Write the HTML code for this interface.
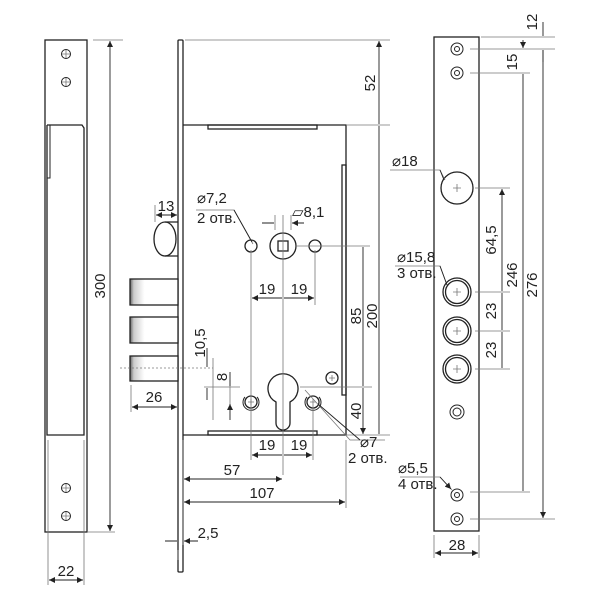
<!DOCTYPE html>
<html><head><meta charset="utf-8"><style>
html,body{margin:0;padding:0;background:#fff}
svg{display:block}
text{font-family:"Liberation Sans",sans-serif;font-size:15px;fill:#222}
</style></head><body>
<svg width="600" height="600" viewBox="0 0 600 600" xmlns="http://www.w3.org/2000/svg">
<defs>
<marker id="a" viewBox="0 0 10 10" refX="10" refY="5" markerUnits="userSpaceOnUse" markerWidth="8" markerHeight="6" orient="auto-start-reverse"><path d="M0,0 L10,5 L0,10 z" fill="#222"/></marker>
<linearGradient id="g" x1="0" x2="1"><stop offset="0" stop-color="#666"/><stop offset="0.08" stop-color="#ccc"/><stop offset="0.3" stop-color="#fff"/><stop offset="1" stop-color="#fff"/></linearGradient>
</defs>
<g fill="none" stroke="#222" stroke-width="1.3">
<rect x="45" y="40" width="42" height="492"/>
<path d="M47,125 H82 L84,128 V435 L82,435 H47 V125"/>
<path d="M50,125 V178 H47" stroke-width="1"/>
<rect x="178" y="40" width="5" height="532" rx="1"/>
<path d="M183,125 H346 V435 H183"/>
<rect x="208" y="125" width="109" height="4"/>
<rect x="208" y="431" width="109" height="4"/>
<rect x="342" y="165" width="4" height="230"/>
<ellipse cx="165" cy="239" rx="11" ry="17"/>
<path d="M165,222 H178 M165,256 H178"/>
<rect x="130" y="279" width="48" height="26" fill="url(#g)"/>
<rect x="130" y="317" width="48" height="26" fill="url(#g)"/>
<rect x="130" y="356" width="48" height="25" fill="url(#g)"/>
<circle cx="283" cy="246" r="13"/>
<rect x="278" y="241" width="10" height="10"/>
<circle cx="251" cy="246" r="6"/>
<circle cx="315" cy="246" r="6"/>
<path d="M276,402 A15,15 0 1 1 290,402 V423 A7,7 0 0 1 276,423 Z"/>
<circle cx="251" cy="402" r="6"/>
<path d="M245,397 A8,8 0 1 0 257,397" stroke-width="1"/>
<circle cx="313" cy="402" r="6"/>
<path d="M307,397 A8,8 0 1 0 319,397" stroke-width="1"/>
<circle cx="332" cy="378" r="6"/>
<rect x="434" y="37" width="45" height="494"/>
<circle cx="457" cy="188" r="16"/>
<circle cx="457" cy="292" r="14"/><circle cx="457" cy="292" r="11.5"/>
<circle cx="457" cy="331" r="14"/><circle cx="457" cy="331" r="11.5"/>
<circle cx="457" cy="369" r="14"/><circle cx="457" cy="369" r="11.5"/>
</g>
<g fill="none" stroke="#222" stroke-width="1">
<circle cx="66" cy="54" r="4.5"/><circle cx="66" cy="82" r="4.5"/>
<circle cx="66" cy="488" r="4.5"/><circle cx="66" cy="516" r="4.5"/>
<circle cx="457" cy="49" r="6"/><circle cx="457" cy="49" r="2.5"/>
<circle cx="457" cy="73" r="6"/><circle cx="457" cy="73" r="2.5"/>
<circle cx="457" cy="412" r="7"/><circle cx="457" cy="412" r="4"/>
<circle cx="457" cy="495" r="6"/><circle cx="457" cy="495" r="2.5"/>
<circle cx="457" cy="519" r="6"/><circle cx="457" cy="519" r="2.5"/>
</g>
<g stroke="#777" stroke-width="0.8" fill="none">
<path d="M62,54h8M66,50v8M62,82h8M66,78v8M62,488h8M66,484v8M62,516h8M66,512v8"/>
<path d="M453,188h8M457,184v8M453,292h8M457,288v8M453,331h8M457,327v8M453,369h8M457,365v8M329,378h6M332,375v6M248,402h6M251,399v6M310,402h6M313,399v6"/>
<path d="M93,40H123M87,532H115M48,440V585M84,440V585"/>
<path d="M185,40H390M346,125H390M346,435H390M295,246H370M300,387H372"/>
<path d="M283,215V475M251,250V460M315,250V305M251,405V460M313,405V460"/>
<path d="M155,205V222M346,440V508M183,440V545M178,550V560M204,387H240M213,358V420"/>
<path d="M120,368H213" stroke-dasharray="2,2"/>
<path d="M230,380V410M131,385V412"/>
<path d="M481,37H555M470,49H555M470,73H530M475,188H510M475,292H510M475,331H510M475,369H510M470,492H530M470,519H555M434,535V558M479,535V558"/>
<path d="M196,210H234L253,244M305,390L350,440H385M390,170H440L445,180M395,266H440L447,285M400,477H440L452,490"/>
<path d="M275,215V230M291,215V230"/>
</g>
<g stroke="#222" stroke-width="0.9" fill="none" marker-end="url(#a)" marker-start="url(#a)">
<path d="M110,41V531"/>
<path d="M49,580H83"/>
<path d="M156,215H177"/>
<path d="M252,298H282M284,298H314"/>
<path d="M252,455H282M284,455H312"/>
<path d="M184,479H282"/>
<path d="M184,502H345"/>
<path d="M132,407H177"/>
<path d="M379,41V124M379,126V434M363,247V386M363,388V434"/>
<path d="M502,189V291M502,293V330M502,332V368M523,74V491M543,50V518"/>
<path d="M435,553H478"/>
</g>
<g stroke="#222" stroke-width="0.9" fill="none" marker-end="url(#a)">
<path d="M262,223H274M304,223H292"/>
<path d="M207,348V367M207,400V388M230,372V386M230,420V404"/>
<path d="M165,541H177M198,541H184"/>
<path d="M543,22V36M543,62V50M523,40V48"/>
<path d="M234,210L252,242M360,440L318,404M440,170L444,180M440,266L447,285M440,477L451,489"/>
</g>
<text x="100" y="286" text-anchor="middle" transform="rotate(-90 100 286)" dy="5">300</text>
<text x="66" y="576" text-anchor="middle">22</text>
<text x="166" y="211" text-anchor="middle">13</text>
<text x="197" y="203">⌀7,2</text>
<text x="197" y="223">2 отв.</text>
<text x="292" y="217">▱8,1</text>
<text x="267" y="294" text-anchor="middle">19</text>
<text x="299" y="294" text-anchor="middle">19</text>
<text x="267" y="450" text-anchor="middle">19</text>
<text x="299" y="450" text-anchor="middle">19</text>
<text x="154" y="402" text-anchor="middle">26</text>
<text x="232" y="475" text-anchor="middle">57</text>
<text x="262" y="498" text-anchor="middle">107</text>
<text x="208" y="538" text-anchor="middle">2,5</text>
<text x="200" y="343" text-anchor="middle" transform="rotate(-90 200 343)" dy="5">10,5</text>
<text x="222" y="377" text-anchor="middle" transform="rotate(-90 222 377)" dy="5">8</text>
<text x="370" y="83" text-anchor="middle" transform="rotate(-90 370 83)" dy="5">52</text>
<text x="356" y="316" text-anchor="middle" transform="rotate(-90 356 316)" dy="5">85</text>
<text x="372" y="316" text-anchor="middle" transform="rotate(-90 372 316)" dy="5">200</text>
<text x="356" y="411" text-anchor="middle" transform="rotate(-90 356 411)" dy="5">40</text>
<text x="360" y="447">⌀7</text>
<text x="348" y="463">2 отв.</text>
<text x="392" y="166">⌀18</text>
<text x="397" y="262">⌀15,8</text>
<text x="397" y="278">3 отв.</text>
<text x="398" y="473">⌀5,5</text>
<text x="398" y="489">4 отв.</text>
<text x="457" y="550" text-anchor="middle">28</text>
<text x="532" y="22" text-anchor="middle" transform="rotate(-90 532 22)" dy="5">12</text>
<text x="512" y="62" text-anchor="middle" transform="rotate(-90 512 62)" dy="5">15</text>
<text x="491" y="240" text-anchor="middle" transform="rotate(-90 491 240)" dy="5">64,5</text>
<text x="491" y="311" text-anchor="middle" transform="rotate(-90 491 311)" dy="5">23</text>
<text x="491" y="350" text-anchor="middle" transform="rotate(-90 491 350)" dy="5">23</text>
<text x="512" y="275" text-anchor="middle" transform="rotate(-90 512 275)" dy="5">246</text>
<text x="532" y="285" text-anchor="middle" transform="rotate(-90 532 285)" dy="5">276</text>
</svg>
</body></html>
